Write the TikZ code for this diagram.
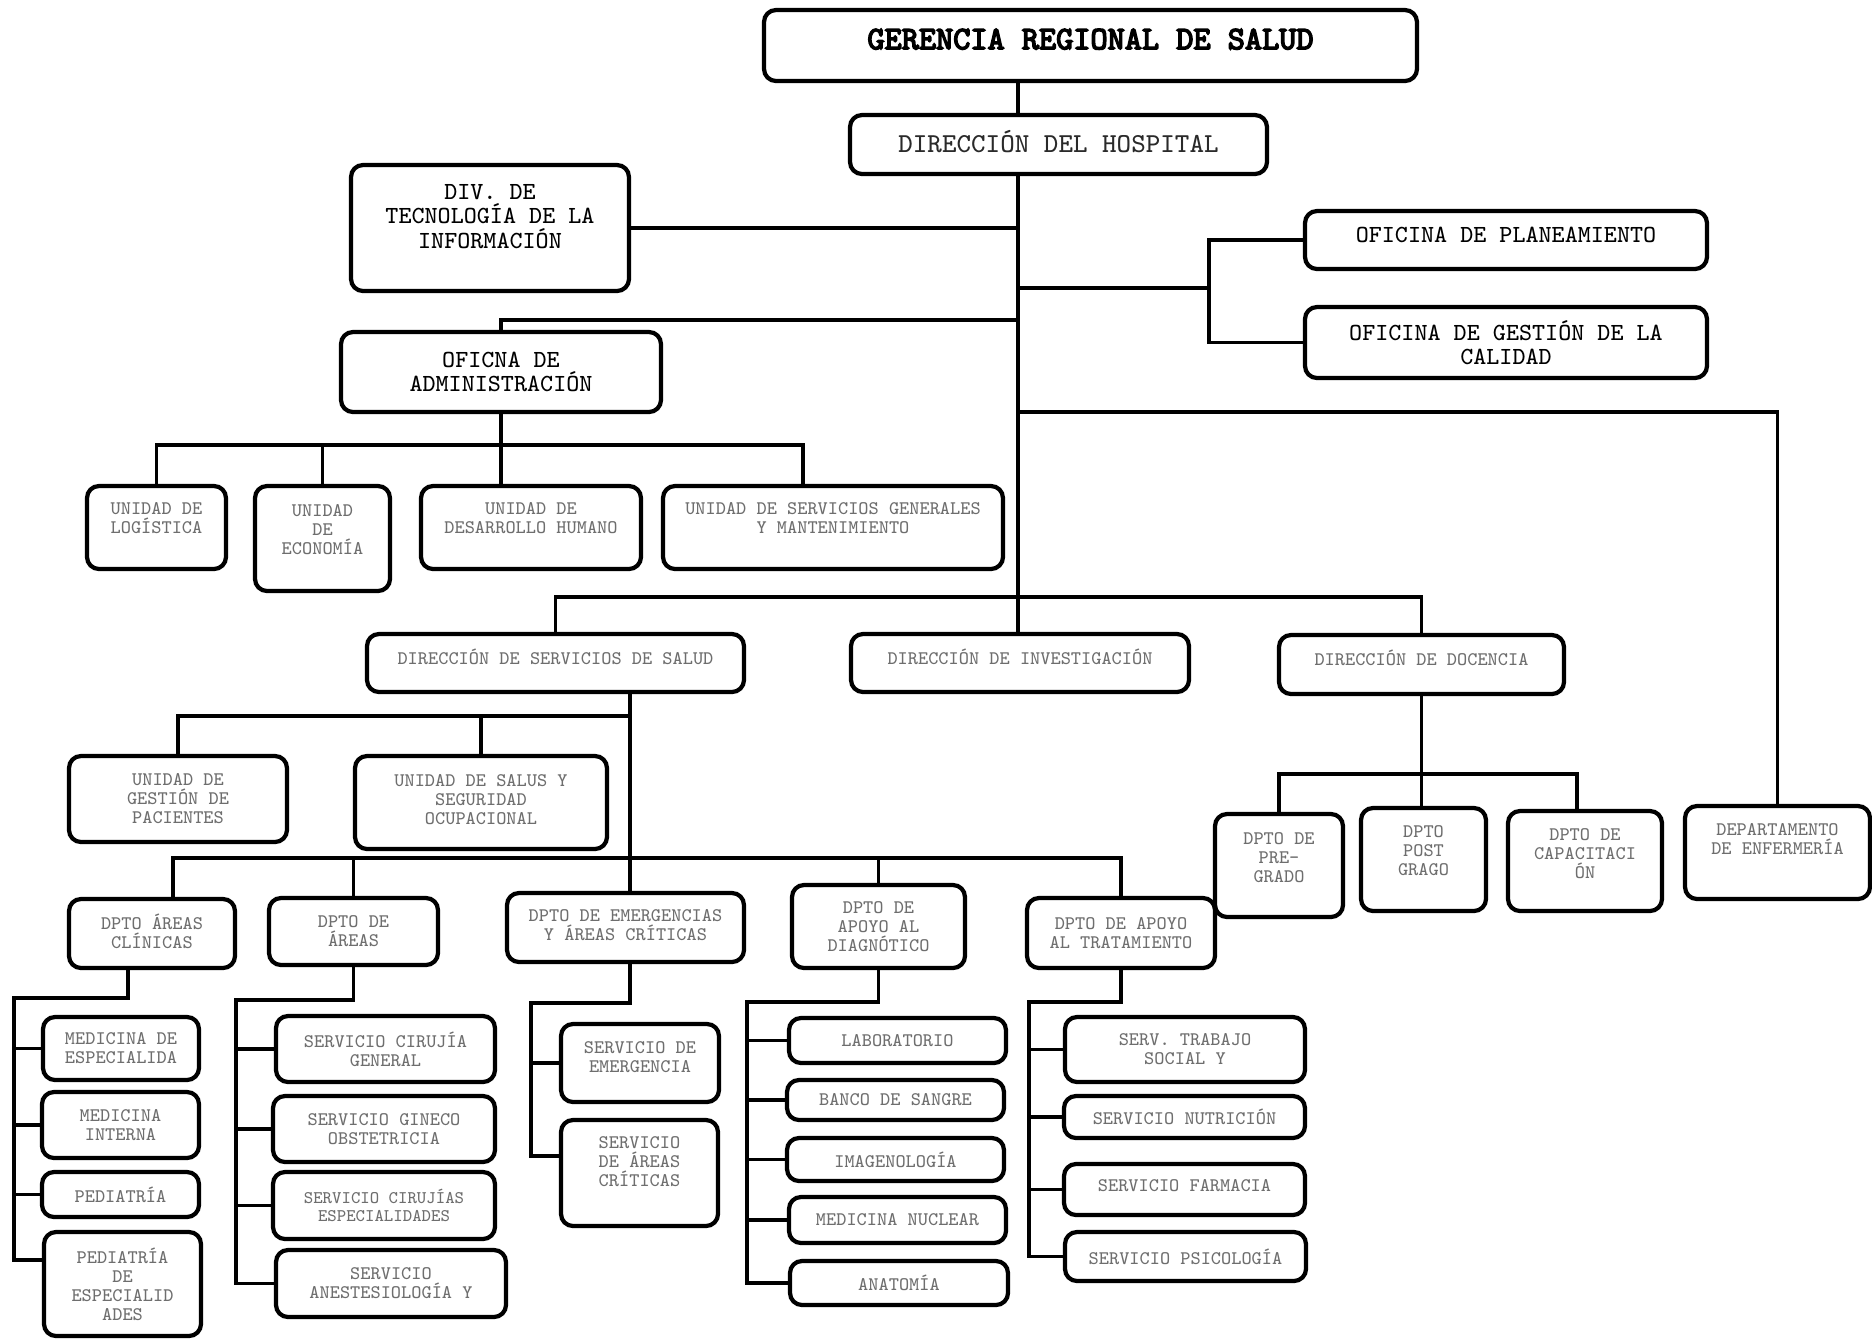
\documentclass[tikz,border=0pt]{standalone}
\usepackage{fontspec}
\newfontfamily\titlemono{lmmono10-regular.otf}[FakeBold=4.5]
\usepackage{tikz}
\usetikzlibrary{positioning}
\definecolor{subtext}{HTML}{6E6E6E}
\definecolor{hosptext}{HTML}{2A2A2A}
\newcommand{\orgtitle}{\titlemono\fontsize{9.3}{10.6}\selectfont}
\newcommand{\orghead}{\ttfamily\fontsize{7.8}{8.9}\selectfont}
\newcommand{\orgmain}{\ttfamily\fontsize{7.0}{6.97}\selectfont}
\newcommand{\orgsmall}{\ttfamily\fontsize{5.46}{5.4}\selectfont}
\newcommand{\orgtiny}{\ttfamily\fontsize{5.05}{5.1}\selectfont}
\newcommand{\lift}[1]{\rule[-#1]{0pt}{#1}}

\begin{document}
\begin{tikzpicture}[
  box/.style={draw, rounded corners=0.12cm, line width=1.2pt, align=center, inner sep=1pt, text=subtext, font=\orgsmall},
  headbox/.style={box, text=black, font=\orgmain},
  wh/.style 2 args={minimum width=#1cm, minimum height=#2cm},
  link/.style={line width=1pt},
]
\useasboundingbox (0,0) rectangle (18.72,-13.38);

% Top of the chart
\node[headbox, wh={6.53}{0.71}, font=\orgtitle] (ger) at (10.905,-0.455) {GERENCIA REGIONAL DE SALUD\lift{0.13cm}};
\node[headbox, wh={4.17}{0.59}, text=hosptext, font=\orghead] (hosp) at (10.585,-1.445) {DIRECCIÓN DEL HOSPITAL\lift{0.07cm}};
\node[headbox, wh={2.78}{1.26}] (tic) at (4.90,-2.28) {DIV. DE\\TECNOLOGÍA DE LA\\INFORMACIÓN\lift{0.24cm}};
\node[headbox, wh={4.02}{0.58}] (plan) at (15.06,-2.40) {OFICINA DE PLANEAMIENTO\lift{0.10cm}};
\node[headbox, wh={4.02}{0.71}] (cal) at (15.06,-3.425) {OFICINA DE GESTIÓN DE LA\\CALIDAD};
\node[headbox, wh={3.20}{0.80}] (adm) at (5.01,-3.72) {OFICNA DE\\ADMINISTRACIÓN};

% Administration units
\node[box, wh={1.39}{0.83}] (log) at (1.565,-5.275) {UNIDAD DE\\LOGÍSTICA\lift{0.19cm}};
\node[box, wh={1.35}{1.05}] (eco) at (3.225,-5.385) {UNIDAD\\DE\\ECONOMÍA\lift{0.19cm}};
\node[box, wh={2.20}{0.83}] (dh) at (5.31,-5.275) {UNIDAD DE\\DESARROLLO HUMANO\lift{0.19cm}};
\node[box, wh={3.40}{0.83}] (sg) at (8.33,-5.275) {UNIDAD DE SERVICIOS GENERALES\\Y MANTENIMIENTO\lift{0.19cm}};

% Directions
\node[box, wh={3.77}{0.58}] (dss) at (5.555,-6.63) {DIRECCIÓN DE SERVICIOS DE SALUD\lift{0.12cm}};
\node[box, wh={3.38}{0.58}] (inv) at (10.20,-6.63) {DIRECCIÓN DE INVESTIGACIÓN\lift{0.12cm}};
\node[box, wh={2.85}{0.59}] (doc) at (14.215,-6.645) {DIRECCIÓN DE DOCENCIA\lift{0.13cm}};

% Teaching and nursing
\node[box, wh={1.28}{1.03}] (pre) at (12.79,-8.655) {DPTO DE\\PRE-\\GRADO\lift{0.16cm}};
\node[box, wh={1.25}{1.03}] (post) at (14.235,-8.595) {DPTO\\POST\\GRAGO\lift{0.17cm}};
\node[box, wh={1.54}{1.00}] (cap) at (15.85,-8.61) {DPTO DE\\CAPACITACI\\ÓN\lift{0.14cm}};
\node[box, wh={1.85}{0.93}] (enf) at (17.775,-8.525) {DEPARTAMENTO\\DE ENFERMERÍA\lift{0.27cm}};

% Health services
\node[box, wh={2.18}{0.86}] (gp) at (1.78,-7.99) {UNIDAD DE\\GESTIÓN DE\\PACIENTES};
\node[box, wh={2.52}{0.93}] (sso) at (4.81,-8.025) {UNIDAD DE SALUS Y\\SEGURIDAD\\OCUPACIONAL\lift{0.07cm}};
\node[box, wh={1.66}{0.69}] (dac) at (1.52,-9.335) {DPTO ÁREAS\\CLÍNICAS\lift{0.05cm}};
\node[box, wh={1.69}{0.67}] (dar) at (3.535,-9.315) {DPTO DE\\ÁREAS};
\node[box, wh={2.37}{0.69}] (dem) at (6.255,-9.275) {DPTO DE EMERGENCIAS\\Y ÁREAS CRÍTICAS\lift{0.05cm}};
\node[box, wh={1.73}{0.83}] (dad) at (8.785,-9.265) {DPTO DE\\APOYO AL\\DIAGNÓTICO};
\node[box, wh={1.88}{0.70}] (dat) at (11.21,-9.33) {DPTO DE APOYO\\AL TRATAMIENTO};

% Clinical areas
\node[box, wh={1.56}{0.63}] (c1a) at (1.21,-10.485) {MEDICINA DE\\ESPECIALIDA};
\node[box, wh={1.57}{0.66}] (c1b) at (1.205,-11.25) {MEDICINA\\INTERNA};
\node[box, wh={1.57}{0.45}] (c1c) at (1.205,-11.945) {PEDIATRÍA};
\node[box, wh={1.57}{1.04}] (c1d) at (1.225,-12.84) {PEDIATRÍA\\DE\\ESPECIALID\\ADES};

% Surgical areas
\node[box, wh={2.19}{0.66}] (c2a) at (3.855,-10.49) {SERVICIO CIRUJÍA\\GENERAL};
\node[box, wh={2.22}{0.66}] (c2b) at (3.84,-11.29) {SERVICIO GINECO\\OBSTETRICIA};
\node[box, wh={2.22}{0.67}, font=\orgtiny] (c2c) at (3.84,-12.055) {SERVICIO CIRUJÍAS\\ESPECIALIDADES};
\node[box, wh={2.30}{0.67}] (c2d) at (3.91,-12.835) {SERVICIO\\ANESTESIOLOGÍA Y};

% Emergencies
\node[box, wh={1.58}{0.78}] (c3a) at (6.40,-10.63) {SERVICIO DE\\EMERGENCIA\lift{0.12cm}};
\node[box, wh={1.57}{1.06}] (c3b) at (6.395,-11.73) {SERVICIO\\DE ÁREAS\\CRÍTICAS\lift{0.22cm}};

% Diagnosis support
\node[box, wh={2.17}{0.45}] (lab) at (8.975,-10.405) {LABORATORIO};
\node[box, wh={2.17}{0.40}] (ban) at (8.955,-11.00) {BANCO DE SANGRE};
\node[box, wh={2.17}{0.43}] (ima) at (8.955,-11.595) {IMAGENOLOGÍA};
\node[box, wh={2.17}{0.46}] (nuc) at (8.975,-12.20) {MEDICINA NUCLEAR};
\node[box, wh={2.18}{0.44}] (ana) at (8.99,-12.83) {ANATOMÍA};

% Treatment support
\node[box, wh={2.40}{0.65}] (tra) at (11.85,-10.495) {SERV. TRABAJO\\SOCIAL Y};
\node[box, wh={2.41}{0.42}] (nut) at (11.845,-11.17) {SERVICIO NUTRICIÓN};
\node[box, wh={2.41}{0.51}] (far) at (11.845,-11.895) {SERVICIO FARMACIA\lift{0.08cm}};
\node[box, wh={2.41}{0.49}] (psi) at (11.855,-12.565) {SERVICIO PSICOLOGÍA};

% Main trunk
\coordinate (trunk) at (10.18,0);
\draw[link] (ger.south -| trunk) -- (hosp.north -| trunk);
\draw[link] (hosp.south -| trunk) -- (inv.north -| trunk);
\draw[link] (tic.east) -- (tic.east -| trunk);
\coordinate (jplan) at (12.09,-2.88);
\draw[link] (jplan -| trunk) -- (jplan);
\draw[link] (plan.west) -| (jplan) |- (cal.west);
\coordinate (jadm) at (10.18,-3.20);
\draw[link] (jadm) -| (adm.north);
\coordinate (badm) at (8.03,-4.45);
\draw[link] (adm.south) -- (adm.south |- dh.north);
\draw[link] (log.north) |- (badm) -- (badm |- sg.north);
\draw[link] (eco.north) -- (eco.north |- badm);
\coordinate (jenf) at (10.18,-4.12);
\draw[link] (jenf) -| (enf.north);
\coordinate (jdir) at (10.18,-5.97);
\draw[link] (dss.north) |- (jdir) -| (doc.north);
\coordinate (jdoc) at (15.77,-7.74);
\draw[link] (doc.south) -- (doc.south |- post.north);
\draw[link] (pre.north) |- (jdoc) -- (jdoc |- cap.north);

% Health services branches
\coordinate (sA) at (6.30,-7.16);
\coordinate (sB) at (6.30,-8.58);
\coordinate (sC) at (1.73,-8.58);
\draw[link] (dss.south -| sA) -- (sB);
\draw[link] (gp.north) |- (sA);
\draw[link] (sso.north) -- (sso.north |- sA);
\draw[link] (sC |- dac.north) -- (sC) -| (dat.north);
\draw[link] (dar.north) -- (dar.north |- sB);
\draw[link] (sB) -- (sB |- dem.north);
\draw[link] (dad.north) -- (dad.north |- sB);

% Columns
\coordinate (k1) at (1.28,-9.98);
\coordinate (k1w) at (0.14,-9.98);
\coordinate (k1e) at (0.14,-12.60);
\draw[link] (dac.south -| k1) -- (k1) -- (k1w) -- (k1e) -- (k1e -| c1d.west);
\foreach \n in {c1a,c1b,c1c} \draw[link] (k1w |- \n.west) -- (\n.west);

\coordinate (k2w) at (2.36,-10.00);
\draw[link] (dar.south) |- (k2w) |- (c2d.west);
\foreach \n in {c2a,c2b,c2c} \draw[link] (k2w |- \n.west) -- (\n.west);

\coordinate (k3w) at (5.31,-10.03);
\coordinate (k3e) at (5.31,-11.56);
\draw[link] (dem.south -| sB) |- (k3w) -- (k3e) -- (k3e -| c3b.west);
\draw[link] (k3w |- c3a.west) -- (c3a.west);

\coordinate (k4w) at (7.47,-10.02);
\draw[link] (dad.south) |- (k4w) |- (ana.west);
\foreach \n in {lab,ban,ima,nuc} \draw[link] (k4w |- \n.west) -- (\n.west);

\coordinate (k5w) at (10.29,-10.02);
\draw[link] (dat.south) |- (k5w) |- (psi.west);
\foreach \n in {tra,nut,far} \draw[link] (k5w |- \n.west) -- (\n.west);

\end{tikzpicture}
\end{document}
